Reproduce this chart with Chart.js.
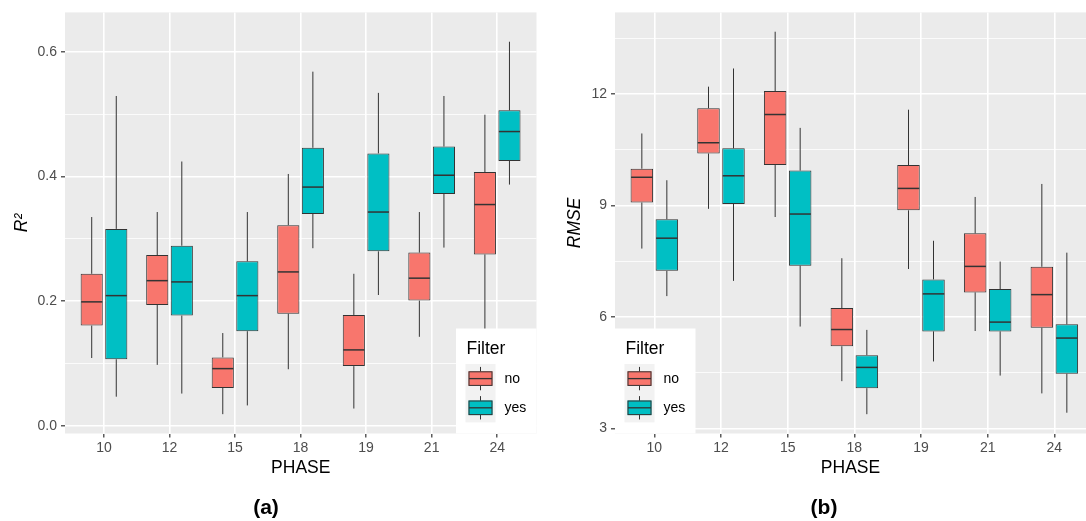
<!DOCTYPE html>
<html>
<head>
<meta charset="utf-8">
<script src="https://cdn.jsdelivr.net/npm/chart.js@4.4.1/dist/chart.umd.min.js"></script>
<style>
  html, body { margin: 0; padding: 0; background: #fff; }
  #wrap { position: relative; width: 1086px; height: 521px; overflow: hidden;
          font-family: "Liberation Sans", Arial, sans-serif; }
  .panel { position: absolute; top: 0; width: 543px; height: 521px; }
  .tag { position: absolute; top: 494px; width: 60px; text-align: center;
         font-weight: bold; font-size: 21px; line-height: 26px; color: #000; }
</style>
</head>
<body>
<div id="wrap">
  <div class="panel" style="left:0"><canvas id="chartA"></canvas></div>
  <div class="panel" style="left:543px"><canvas id="chartB"></canvas></div>
  <div class="tag" style="left:236px">(a)</div>
  <div class="tag" style="left:794px">(b)</div>
</div>
<script>
// Boxplot stats per phase: [lower whisker, Q1, median, Q3, upper whisker]
const phases = ['10', '12', '15', '18', '19', '21', '24'];
const filterLevels = ['no', 'yes'];

const r2No = [
  [0.109, 0.161, 0.199, 0.244, 0.335],
  [0.098, 0.194, 0.233, 0.274, 0.343],
  [0.019, 0.061, 0.092, 0.110, 0.149],
  [0.091, 0.180, 0.247, 0.322, 0.404],
  [0.028, 0.096, 0.122, 0.178, 0.244],
  [0.143, 0.201, 0.237, 0.278, 0.343],
  [0.100, 0.275, 0.355, 0.407, 0.499]
];
const r2Yes = [
  [0.047, 0.107, 0.209, 0.316, 0.529],
  [0.052, 0.177, 0.231, 0.289, 0.424],
  [0.033, 0.152, 0.209, 0.264, 0.343],
  [0.285, 0.340, 0.383, 0.446, 0.568],
  [0.210, 0.280, 0.343, 0.437, 0.534],
  [0.286, 0.372, 0.402, 0.448, 0.529],
  [0.387, 0.425, 0.472, 0.506, 0.616]
];
const rmseNo = [
  [7.84, 9.08, 9.76, 9.99, 10.94],
  [8.91, 10.40, 10.69, 11.62, 12.20],
  [8.69, 10.09, 11.45, 12.08, 13.68],
  [4.27, 5.21, 5.66, 6.24, 7.58],
  [7.29, 8.87, 9.46, 10.09, 11.58],
  [5.62, 6.66, 7.36, 8.25, 9.23],
  [3.94, 5.71, 6.60, 7.35, 9.58]
];
const rmseYes = [
  [6.56, 7.24, 8.12, 8.63, 9.68],
  [6.97, 9.04, 9.80, 10.54, 12.69],
  [5.74, 7.38, 8.77, 9.94, 11.09],
  [3.38, 4.08, 4.64, 4.97, 5.65],
  [4.80, 5.61, 6.62, 7.01, 8.05],
  [4.42, 5.61, 5.86, 6.75, 7.49],
  [3.42, 4.47, 5.43, 5.80, 7.73]
];

// axis limits and tick steps (minor + major lines)
const r2Limits = [-0.012, 0.663];
const r2Step = 0.1;
const rmseLimits = [2.86, 14.2];
const rmseStep = 1.5;

Chart.defaults.font.family = '"Liberation Sans", Arial, sans-serif';
Chart.defaults.color = '#4D4D4D';

const fills = ['#F8766D', '#00BFC4'];
const ink = '#333333';

// grey panel behind the grid
const panelBg = {
  id: 'panelBg',
  beforeDraw(chart) {
    const { ctx, chartArea: a } = chart;
    ctx.save();
    ctx.fillStyle = '#EBEBEB';
    ctx.fillRect(a.left, a.top, a.right - a.left, a.bottom - a.top);
    ctx.restore();
  }
};

// whiskers under the boxes, medians on top
const boxParts = {
  id: 'boxParts',
  beforeDatasetsDraw(chart) {
    const ctx = chart.ctx, y = chart.scales.y;
    ctx.save();
    ctx.strokeStyle = ink;
    ctx.lineWidth = 1;
    chart.data.datasets.forEach((ds, di) => {
      chart.getDatasetMeta(di).data.forEach((bar, i) => {
        const s = ds.stats[i];
        ctx.beginPath();
        ctx.moveTo(bar.x, y.getPixelForValue(s[4]));
        ctx.lineTo(bar.x, y.getPixelForValue(s[3]));
        ctx.moveTo(bar.x, y.getPixelForValue(s[1]));
        ctx.lineTo(bar.x, y.getPixelForValue(s[0]));
        ctx.stroke();
      });
    });
    ctx.restore();
  },
  afterDatasetsDraw(chart) {
    const ctx = chart.ctx, y = chart.scales.y;
    ctx.save();
    ctx.strokeStyle = ink;
    ctx.lineWidth = 1.5;
    chart.data.datasets.forEach((ds, di) => {
      chart.getDatasetMeta(di).data.forEach((bar, i) => {
        const py = y.getPixelForValue(ds.stats[i][2]);
        ctx.beginPath();
        ctx.moveTo(bar.x - bar.width / 2 + 0.5, py);
        ctx.lineTo(bar.x + bar.width / 2 - 0.5, py);
        ctx.stroke();
      });
    });
    ctx.restore();
  }
};

// ggplot style legend inside the panel corner
const filterLegend = {
  id: 'filterLegend',
  afterDraw(chart, args, opts) {
    const { ctx, chartArea: a } = chart;
    const w = 80.5, h = 105;
    const L = opts.side === 'right' ? a.right - w : a.left;
    const T = a.bottom - h;
    ctx.save();
    ctx.fillStyle = '#FFFFFF';
    ctx.fillRect(L, T, w, h);

    ctx.fillStyle = '#000';
    ctx.font = '17.5px "Liberation Sans", Arial, sans-serif';
    ctx.textBaseline = 'alphabetic';
    ctx.textAlign = 'left';
    ctx.fillText('Filter', L + 10.5, T + 25.5);

    const kx = L + 9.5, ky = T + 35.5, kw = 30, kh = 29.2;
    ctx.fillStyle = '#F2F2F2';
    ctx.fillRect(kx, ky, kw, kh * 2);

    filterLevels.forEach((lvl, k) => {
      const cy = ky + kh * (k + 0.5);
      const cx = kx + kw / 2;
      ctx.strokeStyle = ink;
      ctx.lineWidth = 1;
      ctx.beginPath();
      ctx.moveTo(cx, cy - kh * 0.4);
      ctx.lineTo(cx, cy + kh * 0.4);
      ctx.stroke();
      ctx.fillStyle = fills[k];
      ctx.fillRect(kx + 3, cy - kh / 4, kw - 6, kh / 2);
      ctx.strokeRect(kx + 3.5, cy - kh / 4 + 0.5, kw - 7, kh / 2 - 1);
      ctx.lineWidth = 1.3;
      ctx.beginPath();
      ctx.moveTo(kx + 3.5, cy);
      ctx.lineTo(kx + kw - 3.5, cy);
      ctx.stroke();

      ctx.fillStyle = '#000';
      ctx.font = '14px "Liberation Sans", Arial, sans-serif';
      ctx.textBaseline = 'middle';
      ctx.fillText(lvl, L + 48.5, cy + 0.5);
    });
    ctx.restore();
  }
};

function boxDataset(label, stats, color) {
  return {
    label: label,
    stats: stats,
    data: stats.map((s, i) => ({ x: i + 1, y: [s[1], s[3]] })),
    backgroundColor: color,
    borderColor: ink,
    borderWidth: 1,
    borderSkipped: false,
    categoryPercentage: 0.75,
    barPercentage: 0.9
  };
}

function makeChart(canvasId, cfg) {
  const isMajor = v => Math.round((v - cfg.base) / cfg.step) % 2 === 0;
  return new Chart(document.getElementById(canvasId), {
    type: 'bar',
    data: {
      datasets: [
        boxDataset('no', cfg.no, fills[0]),
        boxDataset('yes', cfg.yes, fills[1])
      ]
    },
    options: {
      responsive: true,
      maintainAspectRatio: false,
      animation: false,
      events: [],
      layout: { padding: { left: 0, top: 10.5, right: cfg.padRight, bottom: 42.5 } },
      plugins: {
        legend: { display: false },
        tooltip: { enabled: false },
        filterLegend: { side: cfg.legendSide }
      },
      scales: {
        x: {
          type: 'linear',
          min: cfg.xMin,
          max: cfg.xMax,
          offset: false,
          afterFit(scale) { scale.height = 45; },
          border: { display: false },
          grid: { offset: false, color: '#FFFFFF', lineWidth: 1.6, tickColor: ink, tickLength: 4, tickWidth: 1.2 },
          ticks: {
            stepSize: 1,
            includeBounds: false,
            padding: 2.5,
            font: { size: 14 },
            color: '#4D4D4D',
            callback: v => phases[v - 1]
          },
          title: {
            display: true,
            text: 'PHASE',
            color: '#000',
            font: { size: 17.5 },
            padding: { top: 0, bottom: 0 }
          }
        },
        y: {
          min: cfg.limits[0],
          max: cfg.limits[1],
          afterFit(scale) { scale.width = cfg.yWidth; },
          border: { display: false },
          grid: {
            color: '#FFFFFF',
            lineWidth: c => (c.tick && isMajor(c.tick.value)) ? 1.6 : 0.8,
            tickColor: c => (c.tick && isMajor(c.tick.value)) ? ink : 'rgba(0,0,0,0)',
            tickLength: 4,
            tickWidth: 1.2
          },
          ticks: {
            stepSize: cfg.step,
            includeBounds: false,
            padding: 4,
            font: { size: 14 },
            color: '#4D4D4D',
            callback: v => isMajor(v) ? cfg.fmt(v) : ''
          },
          title: {
            display: true,
            text: cfg.yTitle,
            color: '#000',
            font: { size: 17.5, style: 'italic' },
            padding: { top: cfg.titlePad, bottom: 0 }
          }
        }
      }
    },
    plugins: [panelBg, boxParts, filterLegend]
  });
}

makeChart('chartA', {
  no: r2No, yes: r2Yes,
  limits: r2Limits, step: r2Step, base: 0,
  fmt: v => v.toFixed(1),
  yTitle: 'R²', titlePad: 11.5,
  yWidth: 65, padRight: 6.5,
  xMin: 0.405, xMax: 7.6,
  legendSide: 'right'
});

makeChart('chartB', {
  no: rmseNo, yes: rmseYes,
  limits: rmseLimits, step: rmseStep, base: 3,
  fmt: v => String(v),
  yTitle: 'RMSE', titlePad: 22,
  yWidth: 72, padRight: 0,
  xMin: 0.41, xMax: 7.475,
  legendSide: 'left'
});
</script>
</body>
</html>
